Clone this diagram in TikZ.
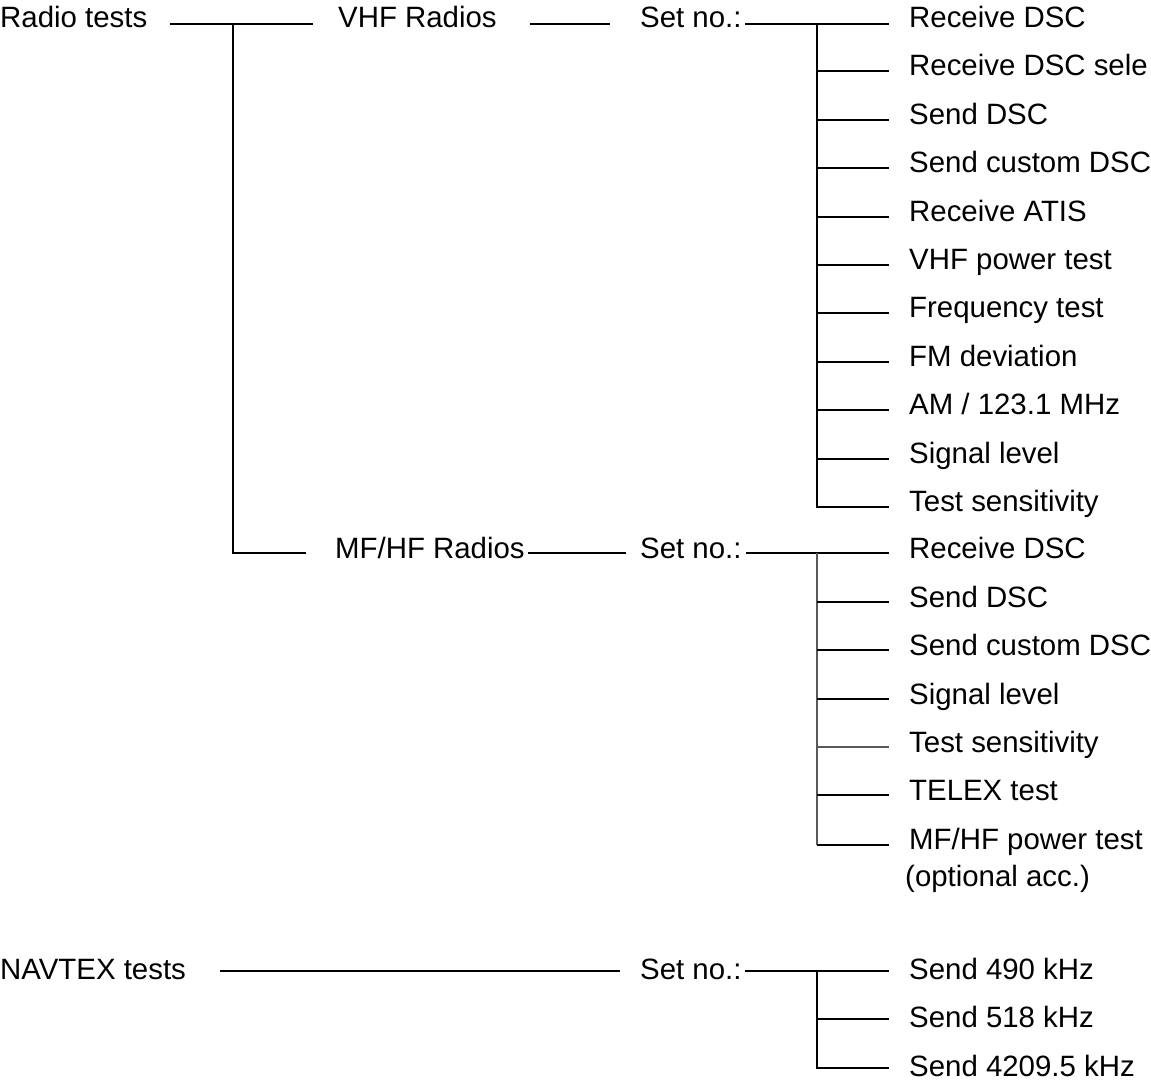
\documentclass[tikz,border=0pt]{standalone}
\usepackage{fontspec}
\setmainfont{Liberation Sans}
\begin{document}
\begin{tikzpicture}[x=1pt,y=-1pt,
  lbl/.style={anchor=base west,inner sep=0pt,font=\fontsize{29.4}{34}\selectfont},
  conn/.style={line width=1.7pt,line cap=butt},
  thinconn/.style={line width=1.2pt,draw=black!65}]
\useasboundingbox (0,0) rectangle (1151,1082);

% ---- top level nodes ----
\node[lbl] (radio) at (0,27) {Radio tests};
\node[lbl] (vhf) at (338,27) {VHF Radios};
\node[lbl] (setv) at (640,27) {Set no.:};
\node[lbl] (mf) at (335,558) {MF/HF Radios};
\node[lbl] (setm) at (640,558) {Set no.:};
\node[lbl] (navtex) at (0,979) {NAVTEX tests};
\node[lbl] (setn) at (640,979) {Set no.:};

% ---- VHF items ----
\foreach \y/\t [count=\i from 0] in {27/{Receive DSC},75/{Receive DSC sele},124/{Send DSC},172/{Send custom DSC},221/{Receive ATIS},269/{VHF power test},317/{Frequency test},366/{FM deviation},414/{AM / 123.1 MHz},463/{Signal level},511/{Test sensitivity}}{
  \node[lbl] (v\i) at (909,\y) {\t};
}
% ---- MF/HF items ----
\foreach \y/\t [count=\i from 0] in {558/{Receive DSC},607/{Send DSC},655/{Send custom DSC},704/{Signal level},752/{Test sensitivity},800/{TELEX test},849/{MF/HF power test}}{
  \node[lbl] (m\i) at (909,\y) {\t};
}
\node[lbl] (m6b) at (905,886) {(optional acc.)};
% ---- NAVTEX items ----
\foreach \y/\t [count=\i from 0] in {979/{Send 490 kHz},1027/{Send 518 kHz},1076/{Send 4209.5 kHz}}{
  \node[lbl] (n\i) at (909,\y) {\t};
}

% ---- junction coordinates ----
\coordinate (rA) at (170,24);
\coordinate (rB) at (313,24);
\coordinate (rJ) at (233,24);
\coordinate (rM) at (233,553);
\coordinate (rMe) at (306,553);
\coordinate (vA) at (530,24);
\coordinate (vB) at (610,24);
\coordinate (sA) at (745,24);
\coordinate (sJ) at (817,24);
\coordinate (mA) at (528,553);
\coordinate (mB) at (626,553);
\coordinate (smA) at (746,553);
\coordinate (smJ) at (817,553);
\coordinate (nA) at (220,971);
\coordinate (nB) at (620,971);
\coordinate (snA) at (745,971);
\coordinate (snJ) at (817,971);

% ---- Radio tests tree ----
\draw[conn] (rA) -- (rB);
\draw[conn] (rJ) -- (rM) -- (rMe);
\draw[conn] (vA) -- (vB);
\draw[conn] (sA) -- (889,24);
\draw[conn] (sJ) -- (817,507) -- (889,507);
\foreach \y in {71,120,168,217,265,313,362,410,459}{
  \draw[conn] (817,\y) -- (889,\y);
}

% ---- MF/HF tree ----
\draw[conn] (mA) -- (mB);
\draw[conn] (smA) -- (889,553);
\draw[thinconn] (smJ) -- (817,845);
\draw[conn] (817,845) -- (889,845);
\foreach \y in {602,650,699,795}{
  \draw[conn] (817,\y) -- (889,\y);
}
\draw[thinconn] (817,747) -- (889,747);

% ---- NAVTEX tree ----
\draw[conn] (nA) -- (nB);
\draw[conn] (snA) -- (889,971);
\draw[conn] (snJ) -- (817,1068) -- (889,1068);
\draw[conn] (817,1019) -- (889,1019);
\end{tikzpicture}
\end{document}
